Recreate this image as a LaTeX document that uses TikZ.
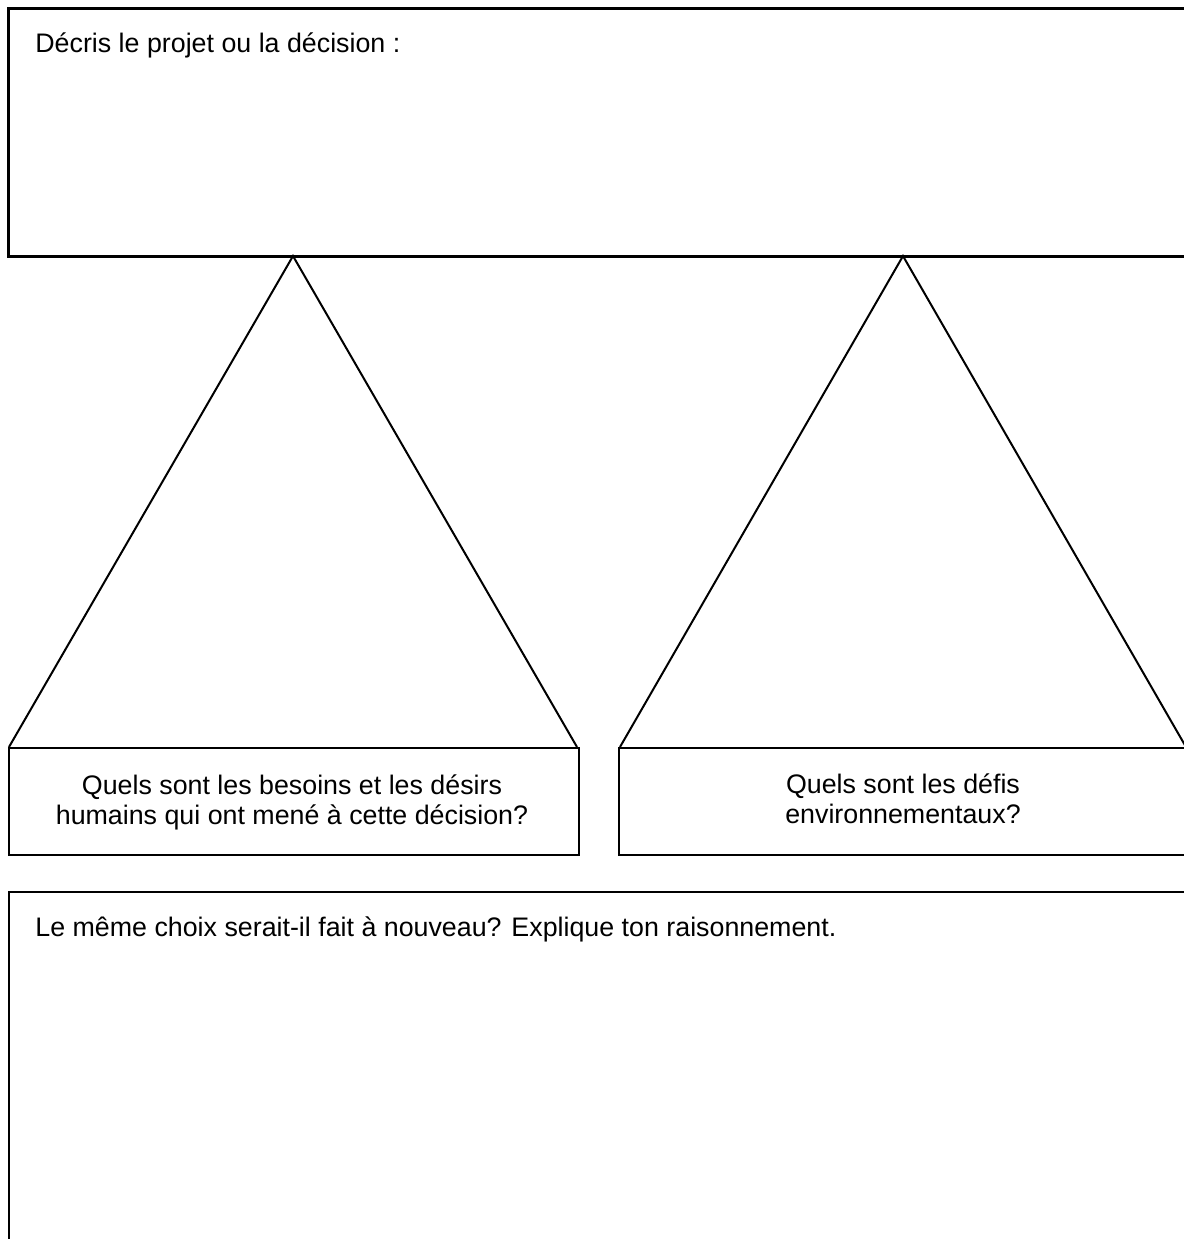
\documentclass[tikz,border=0pt]{standalone}
\usepackage{fontspec}
\setmainfont{Liberation Sans}
\usepackage{tikz}
\tikzstyle{frame box}=[
        draw = black,
        line width = 1.1pt,
        rectangle,
        anchor = north west,
        inner sep = 0pt
    ]
\tikzstyle{prompt}=[
    anchor = base west,
    inner sep = 0pt,
    font = \fontsize{13.4}{15}\selectfont
]
\tikzstyle{question}=[
    align = center,
    inner sep = 0pt,
    font = \fontsize{13.4}{15}\selectfont
]

\begin{document}
\begin{tikzpicture}[x=0.5pt, y=-0.5pt]
        \useasboundingbox (0,0) rectangle (1184,1239);

        % boxes
        \node[frame box, line width = 1.3pt, minimum width = 596.5pt, minimum height = 124pt] (descr) at (7,7) {};
        \node[frame box, minimum width = 285pt, minimum height = 53.5pt] (needs) at (8,747) {};
        \node[frame box, minimum width = 291pt, minimum height = 53.5pt] (env) at (618,747) {};
        \node[frame box, minimum width = 596pt, minimum height = 185pt] (again) at (8,891) {};

        % triangle corners
        \coordinate (apexL) at (293,256);
        \coordinate (apexR) at (903,256);
        \coordinate (baseLa) at (9,747);
        \coordinate (baseLb) at (577,747);
        \coordinate (baseRa) at (620,747);
        \coordinate (baseRb) at (1186,747);

        \draw[line width = 1pt] (baseLa) -- (apexL) -- (baseLb);
        \draw[line width = 1pt] (baseRa) -- (apexR) -- (baseRb);

        % texts
        \node[prompt] (descrtext) at (35,52) {Décris le projet ou la décision :};
        \node[prompt] (againtext) at (35,936) {Le même choix serait-il fait à nouveau? Explique ton raisonnement.};
        \node[question] (needstext) at (292,802) {Quels sont les besoins et les désirs\\humains qui ont mené à cette décision?};
        \node[question] (envtext) at (903,799) {Quels sont les défis\\environnementaux?};

    \end{tikzpicture}
\end{document}
